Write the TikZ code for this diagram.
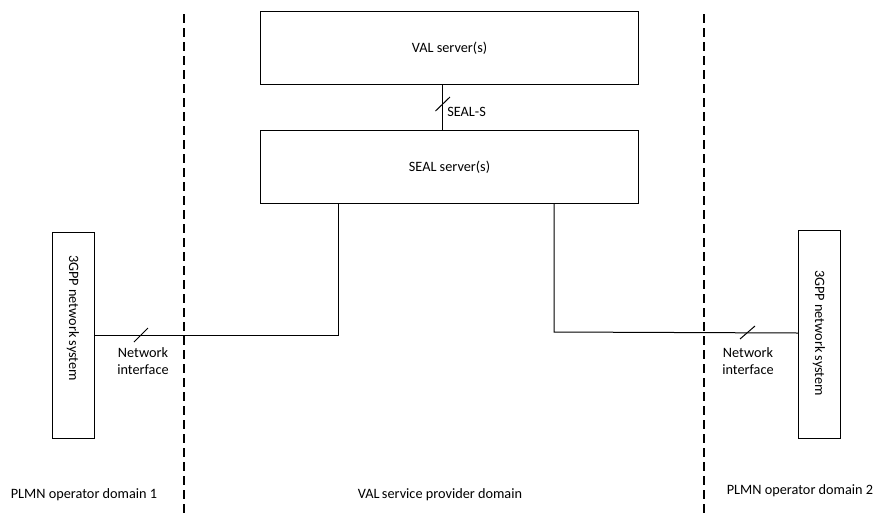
\documentclass[tikz,border=0pt]{standalone}
\usepackage{fontspec}
\setmainfont{Carlito}
\begin{document}
\begin{tikzpicture}[x=0.75pt,y=-0.75pt,
  box/.style={draw,line width=0.75pt,inner sep=0pt,anchor=north west},
  conn/.style={line width=0.75pt},
  border/.style={line width=0.8pt,dash pattern=on 6.75pt off 3.75pt},
  lbl/.style={font=\fontsize{10.7}{12.6}\selectfont,inner sep=0pt,align=center}]
\useasboundingbox (0,0) rectangle (875,515);
% boxes
\node[box,minimum width=378*0.75pt,minimum height=73*0.75pt] (val) at (260,11) {};
\node[lbl] at (val.center) {VAL server(s)};
\node[box,minimum width=378*0.75pt,minimum height=73*0.75pt] (seal) at (260,130) {};
\node[lbl] at (seal.center) {SEAL server(s)};
\node[box,minimum width=42*0.75pt,minimum height=206*0.75pt] (nl) at (52,232) {};
\node[lbl,rotate=-90] at (73,318) {3GPP network system};
\node[box,minimum width=42*0.75pt,minimum height=208*0.75pt] (nr) at (798,230) {};
\node[lbl,rotate=-90] at (819,333) {3GPP network system};
% SEAL-S
\draw[conn] (val.south -| 442,0) -- (seal.north -| 442,0);
\draw[conn] (435.5,111) -- (450,97);
\node[lbl,anchor=west] at (447,112) {SEAL-S};
% left connection
\coordinate (lc) at (338,335);
\draw[conn] (nl.east |- lc) -- (lc) -- (seal.south -| lc);
\draw[conn] (134,342) -- (148,328);
\node[lbl] at (143,361) {Network\\interface};
% right connection
\coordinate (rc) at (554,332);
\draw[conn] (seal.south -| rc) -- (rc) -- (nr.west |- 0,333);
\draw[conn] (740,339) -- (755,326);
\node[lbl] at (748,361) {Network\\interface};
% domain borders
\coordinate (dl1) at (184,14); \coordinate (dl2) at (184,515);
\coordinate (dr1) at (704,14); \coordinate (dr2) at (704,515);
\draw[border] (dl1) -- (dl2);
\draw[border] (dr1) -- (dr2);
% domain labels
\node[lbl] at (84,495) {PLMN operator domain 1};
\node[lbl] at (440,495) {VAL\,service provider domain};
\node[lbl] at (800,491) {PLMN operator domain 2};
\end{tikzpicture}
\end{document}
